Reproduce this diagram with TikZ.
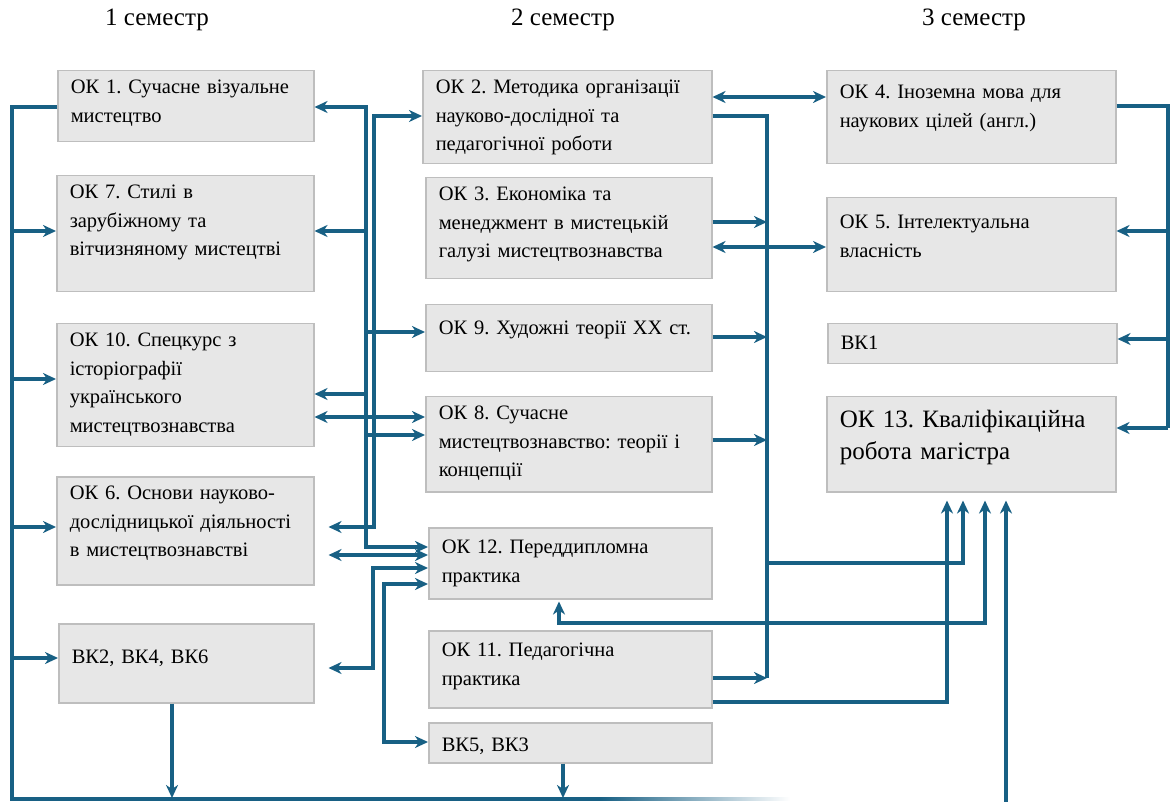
\documentclass[tikz,border=0pt]{standalone}
\usepackage{fontspec}
\setmainfont{Liberation Serif}
\usetikzlibrary{arrows.meta}
\definecolor{lnblue}{RGB}{24,96,132}
\definecolor{boxfill}{RGB}{231,231,231}
\definecolor{boxline}{RGB}{190,190,190}
\newcommand{\boxfont}{\fontsize{20.5}{28.5}\selectfont}
\frenchspacing
\begin{document}
\begin{tikzpicture}[x=1pt,y=-1pt,
    blk/.style={draw=boxline, fill=boxfill, line width=1.5pt, anchor=north west,
      inner xsep=13pt, inner ysep=0pt, align=left, font=\boxfont, text height=23pt},
    sem/.style={font=\fontsize{25}{28}\selectfont},
    ln/.style={draw=lnblue, line width=3.2pt},
    arr/.style={ln, -{Stealth[length=13pt,width=12pt,inset=4pt]}},
    dbl/.style={ln, {Stealth[length=13pt,width=12pt,inset=4pt]}-{Stealth[length=13pt,width=12pt,inset=4pt]}}]
  \useasboundingbox (0,0) rectangle (1171,802);
  % semesters
  \node[sem] (s1) at (157,20) {1 семестр};
  \node[sem] (s2) at (563,20) {2 семестр};
  \node[sem] (s3) at (974,20) {3 семестр};
  % 1 semester
  \node[blk, text width=230pt, text depth=48pt] (ok1) at (57,70) {ОК 1. Сучасне візуальне\\мистецтво};
  \node[blk, text width=231pt, text depth=93pt] (ok7) at (56,175) {ОК 7. Стилі в\\зарубіжному та\\вітчизняному мистецтві};
  \node[blk, text width=231pt, text depth=100pt] (ok10) at (56,323) {ОК 10. Спецкурс з\\історіографії\\українського\\мистецтвознавства};
  \node[blk, text width=231pt, text depth=85pt] (ok6) at (56,476) {ОК 6. Основи науково-\\дослідницької діяльності\\в мистецтвознавстві};
  \node[blk, text width=229pt, text height=40pt, text depth=39pt] (vk2) at (58,623) {ВК2, ВК4, ВК6};
  % 2 semester
  \node[blk, text width=263pt, text depth=70pt] (ok2) at (422,70) {ОК 2. Методика організації\\науково-дослідної та\\педагогічної роботи};
  \node[blk, text width=260pt, text depth=78pt] (ok3) at (425,177) {ОК 3. Економіка та\\менеджмент в мистецькій\\галузі мистецтвознавства};
  \node[blk, text width=260pt, text height=30pt, text depth=37pt] (ok9) at (425,304) {ОК 9. Художні теорії ХХ ст.};
  \node[blk, text width=260pt, text depth=72pt] (ok8) at (425,396) {ОК 8. Сучасне\\мистецтвознавство: теорії і\\концепції};
  \node[blk, text width=257pt, text height=26pt, text depth=45pt] (ok12) at (428,527) {ОК 12. Переддипломна\\практика};
  \node[blk, text width=257pt, text height=26pt, text depth=51pt] (ok11) at (428,630) {ОК 11. Педагогічна\\практика};
  \node[blk, text width=257pt, text height=29pt, text depth=11pt] (vk5) at (428,722) {ВК5, ВК3};
  % 3 semester
  \node[blk, text width=263pt, text height=28pt, text depth=65pt] (ok4) at (826,70) {ОК 4. Іноземна мова для\\наукових цілей (англ.)};
  \node[blk, text width=263pt, text height=31pt, text depth=63pt] (ok5) at (826,197) {ОК 5. Інтелектуальна\\власність};
  \node[blk, text width=263pt, text height=26pt, text depth=14pt] (vk1) at (827,323) {ВК1};
  \node[blk, text width=263pt, text height=31pt, text depth=64pt,
    font=\fontsize{25}{32}\selectfont] (ok13) at (826,396) {ОК 13. Кваліфікаційна\\робота магістра};

  % left bus and bottom line
  \draw[ln] (ok1.west|-0,107) -| (12,799) -- (600,799);
  \shade[left color=lnblue, right color=white] (600,797.4) rectangle (790,800.6);
  \draw[arr] (12,231) -- (ok7.west|-0,231);
  \draw[arr] (12,379) -- (ok10.west|-0,379);
  \draw[arr] (12,527) -- (ok6.west|-0,527);
  \draw[arr] (12,658) -- (vk2.west|-0,658);
  \draw[arr] (vk2.south-|172,0) -- (172,798);
  \draw[arr] (vk5.south-|563,0) -- (563,798);
  \draw[arr, shorten >=8pt] (1006,802) -- (ok13.south-|1006,0);

  % between 1 and 2 semester
  \draw[dbl] (ok1.east|-0,107) -| (366,547) -- (ok12.west|-0,547);
  \draw[arr] (366,231) -- (ok7.east|-0,231);
  \draw[arr] (366,332) -- (ok9.west|-0,332);
  \draw[arr] (366,394) -- (ok10.east|-0,394);
  \draw[arr] (366,435) -- (ok8.west|-0,435);
  \draw[dbl, shorten <=14pt] (ok6.east|-0,527) -| (374,116) -- (ok2.west|-0,116);
  \draw[dbl] (ok10.east|-0,417) -- (ok8.west|-0,417);
  \draw[dbl, shorten <=14pt] (ok6.east|-0,555) -- (ok12.west|-0,555);
  \draw[dbl, shorten <=14pt] (vk2.east|-0,668) -| (373,568) -- (ok12.west|-0,568);
  \draw[dbl] (vk5.west|-0,742) -| (384,584) -- (ok12.west|-0,584);

  % between 2 and 3 semester
  \draw[dbl] (ok2.east|-0,97) -- (ok4.west|-0,97);
  \draw[dbl] (ok3.east|-0,247) -- (ok5.west|-0,247);
  \draw[ln] (ok2.east|-0,116) -| (767,678);
  \draw[arr] (ok3.east|-0,222) -- (767,222);
  \draw[arr] (ok9.east|-0,337) -- (767,337);
  \draw[arr] (ok8.east|-0,440) -- (767,440);
  \draw[arr] (ok11.east|-0,678) -- (767,678);
  \draw[arr, shorten >=8pt] (767,563) -| (ok13.south-|963,0);
  \draw[arr, shorten >=8pt] (ok11.east|-0,702) -| (ok13.south-|947,0);
  \draw[dbl, shorten >=8pt, shorten <=2pt] (ok12.south-|559,0) |- (985,623) -- (ok13.south-|985,0);

  % right bus
  \draw[ln] (ok4.east|-0,106) -| (1168,428);
  \draw[arr] (1168,231) -- (ok5.east|-0,231);
  \draw[arr] (1168,339) -- (vk1.east|-0,339);
  \draw[arr] (1168,428) -- (ok13.east|-0,428);
\end{tikzpicture}
\end{document}
